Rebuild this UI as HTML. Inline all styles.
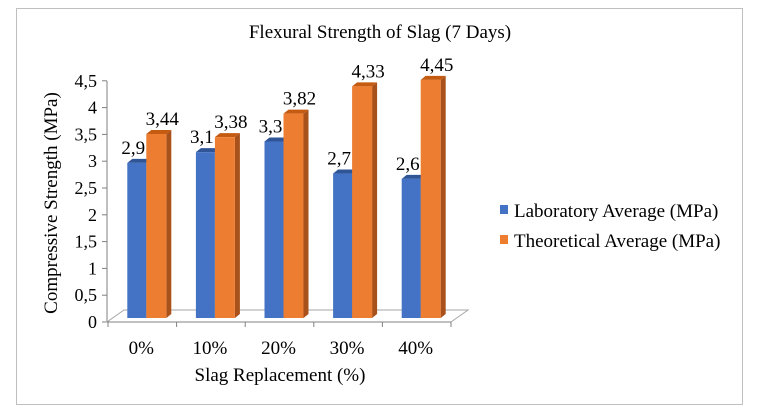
<!DOCTYPE html>
<html><head><meta charset="utf-8"><style>
body{margin:0;background:#fff;}
svg{display:block;font-family:"Liberation Serif",serif;}
</style></head><body>
<svg id="c" width="759" height="415">
<rect x="16.5" y="8.5" width="726" height="396" fill="#fff" stroke="#bfbfbf"/>
<text x="380" y="38" text-anchor="middle" font-size="19">Flexural Strength of Slag (7 Days)</text>
<text transform="translate(57,203) rotate(-90)" text-anchor="middle" font-size="19">Compressive Strength (MPa)</text>
<text x="280" y="381" text-anchor="middle" font-size="19">Slag Replacement (%)</text>
<g id="axes"></g><g id="bars"></g>
<rect x="500" y="205" width="8" height="9" fill="#4472c4"/>
<text x="514" y="217" font-size="19">Laboratory Average (MPa)</text>
<rect x="500" y="235" width="8" height="9" fill="#ed7d31"/>
<text x="514" y="247" font-size="19">Theoretical Average (MPa)</text>
</svg>
<script>
const categories=["0%","10%","20%","30%","40%"];
const labValues=[2.9,3.1,3.3,2.7,2.6];
const theoValues=[3.44,3.38,3.82,4.33,4.45];
const labLabels=["2,9","3,1","3,3","2,7","2,6"];
const theoLabels=["3,44","3,38","3,82","4,33","4,45"];
const yTicks=[0,0.5,1,1.5,2,2.5,3,3.5,4,4.5];
const yTickLabels=["0","0,5","1","1,5","2","2,5","3","3,5","4","4,5"];
const NS="http://www.w3.org/2000/svg";
const ax=document.getElementById('axes'),bg=document.getElementById('bars');
function el(t,a,p){const e=document.createElementNS(NS,t);for(const k in a)e.setAttribute(k,a[k]);p.appendChild(e);return e;}
const axisY=v=>322-v*53.6;
const barY=v=>318-v*53.5;
const x0=108,cw=68.6;
const xC=i=>x0+cw*(i+0.5);
let l=el('line',{x1:107,y1:81,x2:107,y2:322,stroke:'#808080'},ax);

yTicks.forEach((v,i)=>{
 let t=el('line',{x1:102,x2:107,y1:axisY(v),y2:axisY(v),stroke:'#808080'},ax);
 
 let tx=el('text',{x:97,y:axisY(v)+6,'text-anchor':'end','font-size':18},ax);tx.textContent=yTickLabels[i];
 
});
let f=el('polygon',{points:`107,322 451,322 468,310 124,310`,fill:'none',stroke:'#a6a6a6'},ax);

let xl=el('line',{x1:107,x2:451,y1:322,y2:322,stroke:'#808080'},ax);

for(let i=0;i<=categories.length;i++){
 let t=el('line',{x1:x0+cw*i,x2:x0+cw*i,y1:322,y2:327,stroke:'#808080'},ax);
 
}
categories.forEach((c,i)=>{
 let tx=el('text',{x:xC(i)-1,y:354,'text-anchor':'middle','font-size':19},ax);tx.textContent=c;
 
});
function bar(x,w,v,front,top,side,name,label,lx){
 const y=barY(v),b=318,d=5,h=4;
 let s=el('polygon',{points:`${x+w},${y} ${x+w+d},${y-h} ${x+w+d},${b-h} ${x+w},${b}`,fill:side},bg);
 
 let tp=el('polygon',{points:`${x},${y} ${x+d},${y-h} ${x+w+d},${y-h} ${x+w},${y}`,fill:top},bg);
 
 let r=el('rect',{x:x,y:y,width:w,height:b-y,fill:front},bg);
 
 let t=el('text',{x:lx,y:y-9,'text-anchor':'middle','font-size':19},bg);t.textContent=label;
 
}
categories.forEach((c,i)=>{
 const cx=xC(i);
 bar(cx-15,19,labValues[i],'#4472c4','#2f5597','#2f5597','bar-lab-'+i,labLabels[i],cx-9);
 bar(cx+4,20,theoValues[i],'#ed7d31','#c55a11','#a9511a','bar-theo-'+i,theoLabels[i],cx+20);
});
</script>
</body></html>
